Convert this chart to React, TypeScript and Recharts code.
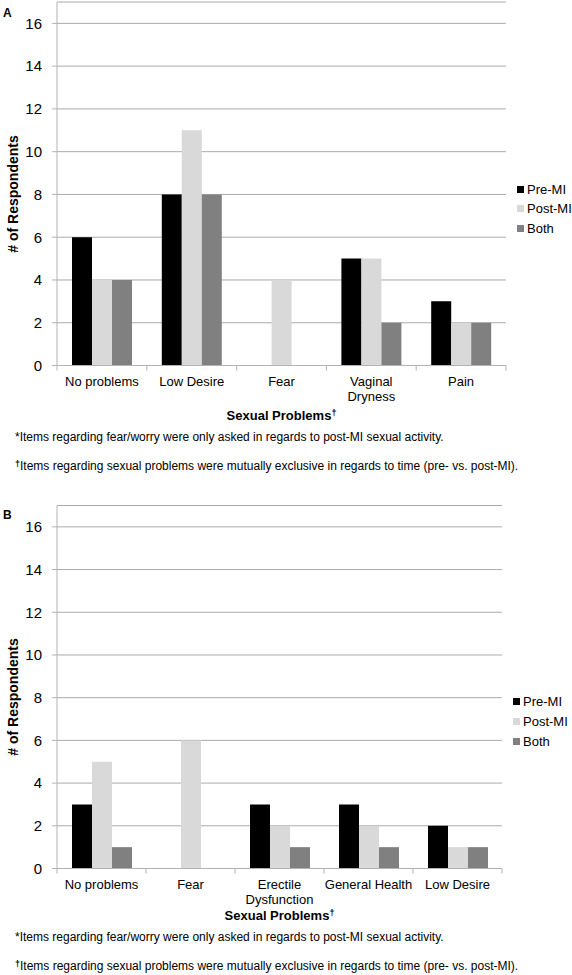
import React from "react";
import { BarChart, Bar, XAxis, YAxis, CartesianGrid, Legend } from "recharts";

const FONT = '"Liberation Sans", Arial, Helvetica, sans-serif';
const AXIS = "#b3b3b3";
const GRID = "#ababab";

// ---- Data ----
const categoriesA = ["No problems", "Low Desire", "Fear", "Vaginal\nDryness", "Pain"];
const preMiA = [6, 8, 0, 5, 3];
const postMiA = [4, 11, 4, 5, 2];
const bothA = [4, 8, 0, 2, 2];

const categoriesB = ["No problems", "Fear", "Erectile\nDysfunction", "General Health", "Low Desire"];
const preMiB = [3, 0, 3, 3, 2];
const postMiB = [5, 6, 2, 2, 1];
const bothB = [1, 0, 1, 1, 1];

const seriesNames = ["Pre-MI", "Post-MI", "Both"];
const seriesColors = ["#000000", "#d9d9d9", "#808080"];
const yTicks = [0, 2, 4, 6, 8, 10, 12, 14, 16];
const yMax = 17;

const xTitle = "Sexual Problems";
const yTitle = "# of Respondents";
const footnote1 = "*Items regarding fear/worry were only asked in regards to post-MI sexual activity.";
const footnote2 = "Items regarding sexual problems were mutually exclusive in regards to time (pre- vs. post-MI).";

function buildRows(cats: string[], pre: number[], post: number[], both: number[]) {
  return cats.map((c, i) => ({ category: c, pre: pre[i], post: post[i], both: both[i] }));
}

const rowsA = buildRows(categoriesA, preMiA, postMiA, bothA);
const rowsB = buildRows(categoriesB, preMiB, postMiB, bothB);

function XTick(props: any) {
  const { x, y, payload, index, visibleTicksCount, fallbackHalf } = props;
  const half =
    payload && typeof payload.offset === "number" && payload.offset > 0 ? payload.offset : fallbackHalf;
  const lines = String(payload.value).split("\n");
  const last = index === (visibleTicksCount ?? 0) - 1;
  return (
    <g>
      <line x1={x - half} y1={y} x2={x - half} y2={y + 5} stroke={AXIS} />
      {last && <line x1={x + half} y1={y} x2={x + half} y2={y + 5} stroke={AXIS} />}
      <text x={x} y={y + 20} textAnchor="middle" fontSize={13} fontFamily={FONT} fill="#000">
        {lines.map((l, i) => (
          <tspan key={i} x={x} dy={i === 0 ? 0 : 15}>
            {l}
          </tspan>
        ))}
      </text>
    </g>
  );
}

function makeLegendContent(rowH: number) {
  return function LegendContent(props: any) {
    const payload = [...(props.payload || [])].sort(
      (a: any, b: any) => seriesNames.indexOf(a.value) - seriesNames.indexOf(b.value)
    );
    return (
      <div style={{ fontFamily: FONT, fontSize: 13, color: "#000" }}>
        {payload.map((e: any, i: number) => (
          <div
            key={i}
            style={{ display: "flex", alignItems: "center", height: rowH, whiteSpace: "nowrap" }}
          >
            <span
              style={{ width: 7, height: 7, background: e.color, marginRight: 3, display: "inline-block" }}
            />
            <span>{e.value}</span>
          </div>
        ))}
      </div>
    );
  };
}

const CH_W = 572;
const CH_H = 420;
const X_AXIS_H = 40;

function Panel(props: {
  top: number;
  rows: any[];
  marginTop: number;
  marginBottom: number;
  marginRight: number;
  legendLeft: number;
  legendTop: number;
  legendRowH: number;
}) {
  const { top, rows, marginTop, marginBottom, marginRight, legendLeft, legendTop, legendRowH } = props;
  const left = 57;
  const plotW = CH_W - left - marginRight;
  const half = plotW / rows.length / 2;
  return (
    <div style={{ position: "absolute", left: 0, top, width: CH_W, height: CH_H }}>
      <BarChart
        width={CH_W}
        height={CH_H}
        data={rows}
        margin={{ top: marginTop, right: marginRight, bottom: marginBottom, left: 12 }}
        barGap={0}
        barSize={20}
      >
        <CartesianGrid vertical={false} stroke={GRID} strokeWidth={1} />
        <XAxis
          dataKey="category"
          height={X_AXIS_H}
          interval={0}
          tickSize={0}
          tickMargin={0}
          tickLine={false}
          axisLine={{ stroke: AXIS }}
          tick={<XTick fallbackHalf={half} />}
        />
        <YAxis
          width={45}
          domain={[0, yMax]}
          ticks={yTicks}
          interval={0}
          tickSize={5}
          tickMargin={10}
          axisLine={{ stroke: AXIS }}
          tickLine={{ stroke: AXIS }}
          tick={{ fontSize: 15, fill: "#000", fontFamily: FONT }}
        />
        <Legend
          layout="vertical"
          align="center"
          verticalAlign="middle"
          wrapperStyle={{ left: legendLeft, top: legendTop, width: "auto" }}
          content={makeLegendContent(legendRowH)}
        />
        <Bar dataKey="pre" name={seriesNames[0]} fill={seriesColors[0]} isAnimationActive={false} />
        <Bar dataKey="post" name={seriesNames[1]} fill={seriesColors[1]} isAnimationActive={false} />
        <Bar dataKey="both" name={seriesNames[2]} fill={seriesColors[2]} isAnimationActive={false} />
      </BarChart>
    </div>
  );
}

function Titles(props: {
  letter: string;
  letterY: number;
  yTitleY: number;
  xTitleX: number;
  xTitleY: number;
  fn1Y: number;
  fn2Y: number;
}) {
  const { letter, letterY, yTitleY, xTitleX, xTitleY, fn1Y, fn2Y } = props;
  return (
    <g fontFamily={FONT} fill="#000">
      <text x={3} y={letterY} fontSize={12} fontWeight="bold">
        {letter}
      </text>
      <text
        x={18}
        y={yTitleY}
        fontSize={14}
        fontWeight="bold"
        textAnchor="middle"
        transform={`rotate(-90 18 ${yTitleY})`}
      >
        {yTitle}
      </text>
      <text x={xTitleX} y={xTitleY} fontSize={13} fontWeight="bold" textAnchor="middle">
        {xTitle}
        <tspan fontSize={9} dy={-4}>
          †
        </tspan>
      </text>
      <text x={15} y={fn1Y} fontSize={12}>
        {footnote1}
      </text>
      <text x={15} y={fn2Y} fontSize={12}>
        <tspan fontSize={9} fontWeight="bold" dy={-3}>
          †
        </tspan>
        <tspan dy={3}>{footnote2}</tspan>
      </text>
    </g>
  );
}

export default function App() {
  return (
    <div
      style={{
        position: "absolute",
        left: 0,
        top: 0,
        width: 572,
        height: 975,
        background: "#fff",
        overflow: "hidden",
      }}
    >
      <Panel
        top={0}
        rows={rowsA}
        marginTop={2}
        marginBottom={14.5}
        marginRight={66}
        legendLeft={517}
        legendTop={179.5}
        legendRowH={19.5}
      />
      <Panel
        top={503}
        rows={rowsB}
        marginTop={2.5}
        marginBottom={14.5}
        marginRight={70}
        legendLeft={513}
        legendTop={188}
        legendRowH={20}
      />
      <svg
        width={572}
        height={975}
        style={{ position: "absolute", left: 0, top: 0, pointerEvents: "none" }}
      >
        <Titles letter="A" letterY={16.5} yTitleY={194} xTitleX={281.5} xTitleY={419.5} fn1Y={441} fn2Y={470} />
        <Titles letter="B" letterY={518.5} yTitleY={697} xTitleX={279.5} xTitleY={920} fn1Y={941} fn2Y={970} />
      </svg>
    </div>
  );
}
